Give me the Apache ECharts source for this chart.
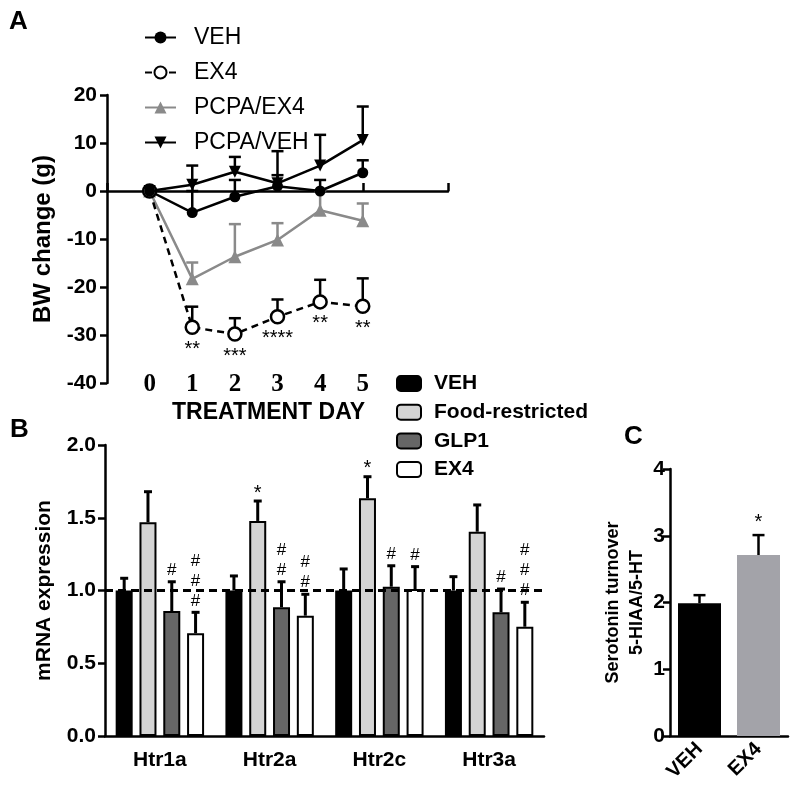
<!DOCTYPE html>
<html><head><meta charset="utf-8">
<script src="https://cdn.jsdelivr.net/npm/echarts@6/dist/echarts.min.js"></script>
<style>html,body{margin:0;padding:0;background:#fff}#c{width:800px;height:793px}</style>
</head><body><div id="c"></div>
<script>
// ---------- Panel A data ----------
const days = [0, 1, 2, 3, 4, 5];
const vehMean = [0, -4.5, -1.2, 1.0, 0.0, 3.8];
const vehUpper = [0, 0.0, 2.3, 3.3, 2.3, 6.4];
const ex4Mean = [0, -28.4, -29.8, -26.2, -23.1, -24.0];
const ex4Upper = [0, -24.1, -26.5, -22.6, -18.5, -18.2];
const pcpaEx4Mean = [0, -18.3, -13.7, -10.2, -4.0, -6.2];
const pcpaEx4Upper = [0, -14.9, -6.9, -6.7, 0.0, -2.6];
const pcpaVehMean = [0, 1.3, 4.0, 1.6, 5.3, 10.6];
const pcpaVehUpper = [0, 5.3, 7.1, 8.3, 11.7, 17.6];
const ex4Stars = ['', '**', '***', '****', '**', '**'];

// ---------- Panel B data ----------
const genes = ['Htr1a', 'Htr2a', 'Htr2c', 'Htr3a'];
const bVehMean = [1.0, 1.0, 1.0, 1.0];
const bVehUpper = [1.084, 1.10, 1.148, 1.095];
const bFrMean = [1.469, 1.478, 1.634, 1.404];
const bFrUpper = [1.679, 1.615, 1.782, 1.588];
const bGlpMean = [0.859, 0.885, 1.026, 0.85];
const bGlpUpper = [1.06, 1.06, 1.17, 1.01];
const bEx4Mean = [0.706, 0.827, 1.01, 0.751];
const bEx4Upper = [0.85, 0.974, 1.164, 0.919];
const bVehAnn = ['', '', '', ''];
const bFrAnn = ['', '*', '*', ''];
const bGlpAnn = ['#', '#\n#', '#', '#'];
const bEx4Ann = ['#\n#\n#', '#\n#', '#', '#\n#\n#'];
const bRefLine = 1.0;

// ---------- Panel C data ----------
const cCats = ['VEH', 'EX4'];
const cMean = [1.99, 2.71];
const cUpper = [2.11, 3.01];
const cAnn = ['', '*'];

// ---------- styles ----------
const FONT = "'Liberation Sans', Arial, sans-serif";
const BLACK = '#000';
const GRAY_A = '#8a8a8a';
const cColors = ['#000000', '#a3a3a9'];
const axisLineStyle = { color: BLACK, width: 2.5 };
const BAR_W = 17, BAR_GAP = 0.4;
const tickFont = { fontSize: 21, fontWeight: 'bold', color: BLACK, fontFamily: FONT };

function errA(upper, ann, color) {
  return function (params, api) {
    const i = params.dataIndex;
    const x = api.value(0), m = api.value(1), u = upper[i];
    const pm = api.coord([x, m]), pu = api.coord([x, u]);
    const ch = [];
    if (u !== m) {
      ch.push({ type: 'line', shape: { x1: pm[0], y1: pm[1], x2: pu[0], y2: pu[1] }, style: { stroke: color, lineWidth: 2.5 } });
      ch.push({ type: 'line', shape: { x1: pu[0] - 6, y1: pu[1], x2: pu[0] + 6, y2: pu[1] }, style: { stroke: color, lineWidth: 2.5 } });
    }
    const t = ann ? ann[i] : '';
    if (t) ch.push({ type: 'text', x: pm[0], y: pm[1] + 12, style: { text: t, fill: BLACK, fontSize: 20, lineHeight: 20, fontFamily: FONT, align: 'center', verticalAlign: 'top' } });
    return { type: 'group', children: ch };
  };
}

function errBar(upper, ann, group, count, bw, gapFrac, capW, lw) {
  return function (params, api) {
    const i = params.dataIndex;
    const m = api.value(1), u = upper[i];
    const gapPx = gapFrac * bw;
    const total = count * bw + (count - 1) * gapPx;
    const off = -total / 2 + bw / 2 + group * (bw + gapPx);
    const pm = api.coord([i, m]), pu = api.coord([i, u]);
    const x = pm[0] + off;
    const ch = [
      { type: 'line', shape: { x1: x, y1: pm[1], x2: x, y2: pu[1] }, style: { stroke: BLACK, lineWidth: lw } },
      { type: 'line', shape: { x1: x - capW / 2, y1: pu[1], x2: x + capW / 2, y2: pu[1] }, style: { stroke: BLACK, lineWidth: lw } }
    ];
    const t = ann[i];
    if (t) {
      const isStar = t.indexOf('*') >= 0;
      ch.push({ type: 'text', x: x, y: isStar ? pu[1] + (count === 1 ? -3 : 2) : pu[1] - 1.5,
        style: { text: t, fill: BLACK, fontSize: isStar ? 20 : 17, lineHeight: 20, fontFamily: FONT, align: 'center', verticalAlign: 'bottom' } });
    }
    return { type: 'group', children: ch };
  };
}

function tri(x, a, b) { return x.map((d, i) => [d, a[i], b[i]]); }
function pairs(x, a) { return x.map((d, i) => [d, a[i]]); }

const chart = echarts.init(document.getElementById('c'), null, { renderer: 'canvas' });

const option = {
  animation: false,
  backgroundColor: '#fff',
  textStyle: { fontFamily: FONT, color: BLACK },
  title: [
    { text: 'A', left: 9, top: 9, padding: 0, textStyle: { fontSize: 26, fontWeight: 'bold', color: BLACK, fontFamily: FONT } },
    { text: 'B', left: 10, top: 417, padding: 0, textStyle: { fontSize: 26, fontWeight: 'bold', color: BLACK, fontFamily: FONT } },
    { text: 'C', left: 624, top: 424, padding: 0, textStyle: { fontSize: 26, fontWeight: 'bold', color: BLACK, fontFamily: FONT } }
  ],
  legend: [
    { data: ['VEH', 'EX4', 'PCPA/EX4', 'PCPA/VEH'], orient: 'vertical', left: 144, top: 26, padding: 0,
      itemWidth: 31, itemHeight: 15, itemGap: 12, selectedMode: false,
      textStyle: { fontSize: 23, fontFamily: FONT, color: BLACK, padding: [0, 0, 0, 13] } },
    { data: ['VEH ', 'Food-restricted', 'GLP1', 'EX4 '], orient: 'vertical', left: 396, top: 373, padding: 0,
      formatter: function (n) { return n.trim(); }, icon: 'roundRect',
      itemWidth: 24, itemHeight: 15, itemGap: 7.7, selectedMode: false,
      textStyle: { fontSize: 21, fontWeight: 'bold', fontFamily: FONT, color: BLACK, padding: [0, 0, 0, 8] } }
  ],
  grid: [
    { left: 107, top: 95, width: 341, height: 288 },
    { left: 105, top: 445, width: 439, height: 291 },
    { left: 670, top: 469, width: 118, height: 267 }
  ],
  xAxis: [
    { gridIndex: 0, type: 'value', min: -1, max: 7, interval: 2, position: 'bottom',
      axisLine: { show: true, onZero: true, lineStyle: axisLineStyle },
      axisTick: { show: true, inside: true, length: 8, lineStyle: axisLineStyle },
      axisLabel: { show: false }, splitLine: { show: false } },
    { gridIndex: 0, type: 'value', min: -1, max: 7, interval: 1, position: 'bottom',
      axisLine: { show: false, onZero: false }, axisTick: { show: false }, splitLine: { show: false },
      axisLabel: { formatter: function (v) { return (v >= days[0] && v <= days[days.length - 1]) ? String(v) : ''; },
        fontFamily: "'Liberation Serif', 'Times New Roman', serif", fontSize: 25, fontWeight: 'bold', color: BLACK,
        verticalAlign: 'middle', margin: 2 },
      name: 'TREATMENT DAY', nameLocation: 'middle', nameGap: 30,
      nameTextStyle: { fontSize: 23, fontWeight: 'bold', color: BLACK, fontFamily: FONT, verticalAlign: 'middle', padding: [0, 18, 0, 0] } },
    { gridIndex: 1, type: 'category', data: genes,
      axisLine: { onZero: false, lineStyle: axisLineStyle },
      axisTick: { alignWithLabel: true, length: 7, lineStyle: axisLineStyle },
      axisLabel: { fontSize: 21, fontWeight: 'bold', color: BLACK, fontFamily: FONT, margin: 14 } },
    { gridIndex: 2, type: 'category', data: cCats,
      axisLine: { onZero: false, lineStyle: axisLineStyle },
      axisTick: { alignWithLabel: true, length: 7, lineStyle: axisLineStyle },
      axisLabel: { rotate: 45, fontSize: 20, fontWeight: 'bold', color: BLACK, fontFamily: FONT, margin: 10 } }
  ],
  yAxis: [
    { gridIndex: 0, type: 'value', min: -40, max: 20, interval: 10,
      axisLine: { show: true, onZero: false, lineStyle: axisLineStyle },
      axisTick: { show: true, length: 7, lineStyle: axisLineStyle }, splitLine: { show: false },
      axisLabel: Object.assign({ margin: 10 }, tickFont),
      name: 'BW change (g)', nameLocation: 'middle', nameGap: 52,
      nameTextStyle: { fontSize: 24, fontWeight: 'bold', color: BLACK, fontFamily: FONT } },
    { gridIndex: 1, type: 'value', min: 0, max: 2, interval: 0.5,
      axisLine: { show: true, onZero: false, lineStyle: axisLineStyle },
      axisTick: { show: true, length: 7, lineStyle: axisLineStyle }, splitLine: { show: false },
      axisLabel: Object.assign({ formatter: function (v) { return v.toFixed(1); }, margin: 9 }, tickFont),
      name: 'mRNA expression', nameLocation: 'middle', nameGap: 50,
      nameTextStyle: { fontSize: 21, fontWeight: 'bold', color: BLACK, fontFamily: FONT } },
    { gridIndex: 2, type: 'value', min: 0, max: 4, interval: 1,
      axisLine: { show: true, onZero: false, lineStyle: axisLineStyle },
      axisTick: { show: true, length: 7, lineStyle: axisLineStyle }, splitLine: { show: false },
      axisLabel: Object.assign({ margin: 5 }, tickFont),
      name: 'Serotonin turnover\n5-HIAA/5-HT', nameLocation: 'middle', nameGap: 9,
      nameTextStyle: { fontSize: 18, fontWeight: 'bold', color: BLACK, fontFamily: FONT, lineHeight: 24 } }
  ],
  series: [
    { type: 'custom', name: 'errVEH', xAxisIndex: 0, yAxisIndex: 0, z: 1, silent: true,
      data: tri(days, vehMean, vehUpper), renderItem: errA(vehUpper, null, BLACK) },
    { type: 'custom', name: 'errEX4', xAxisIndex: 0, yAxisIndex: 0, z: 1, silent: true,
      data: tri(days, ex4Mean, ex4Upper), renderItem: errA(ex4Upper, ex4Stars, BLACK) },
    { type: 'custom', name: 'errPE', xAxisIndex: 0, yAxisIndex: 0, z: 1, silent: true,
      data: tri(days, pcpaEx4Mean, pcpaEx4Upper), renderItem: errA(pcpaEx4Upper, null, GRAY_A) },
    { type: 'custom', name: 'errPV', xAxisIndex: 0, yAxisIndex: 0, z: 1, silent: true,
      data: tri(days, pcpaVehMean, pcpaVehUpper), renderItem: errA(pcpaVehUpper, null, BLACK) },
    { type: 'line', name: 'PCPA/EX4', xAxisIndex: 0, yAxisIndex: 0, z: 3, data: pairs(days, pcpaEx4Mean),
      symbol: 'triangle', symbolSize: 13, itemStyle: { color: GRAY_A }, lineStyle: { color: GRAY_A, width: 2.5 } },
    { type: 'line', name: 'EX4', xAxisIndex: 0, yAxisIndex: 0, z: 3, data: pairs(days, ex4Mean),
      symbol: 'circle', symbolSize: 13, itemStyle: { color: '#fff', borderColor: BLACK, borderWidth: 2.5 },
      lineStyle: { color: BLACK, width: 2.5, type: [7, 5] } },
    { type: 'line', name: 'PCPA/VEH', xAxisIndex: 0, yAxisIndex: 0, z: 3, data: pairs(days, pcpaVehMean),
      symbol: 'triangle', symbolRotate: 180, symbolSize: 12, itemStyle: { color: BLACK }, lineStyle: { color: BLACK, width: 2.5 } },
    { type: 'line', name: 'VEH', xAxisIndex: 0, yAxisIndex: 0, z: 3, data: pairs(days, vehMean),
      symbol: 'circle', symbolSize: 11, itemStyle: { color: BLACK }, lineStyle: { color: BLACK, width: 2.5 } },
    { type: 'bar', name: 'VEH ', xAxisIndex: 2, yAxisIndex: 1, data: bVehMean, barWidth: BAR_W, barGap: '40%',
      itemStyle: { color: '#000', borderColor: BLACK, borderWidth: 2 } },
    { type: 'bar', name: 'Food-restricted', xAxisIndex: 2, yAxisIndex: 1, data: bFrMean, barWidth: BAR_W, barGap: '40%',
      itemStyle: { color: '#d4d4d4', borderColor: BLACK, borderWidth: 2 } },
    { type: 'bar', name: 'GLP1', xAxisIndex: 2, yAxisIndex: 1, data: bGlpMean, barWidth: BAR_W, barGap: '40%',
      itemStyle: { color: '#666666', borderColor: BLACK, borderWidth: 2 } },
    { type: 'bar', name: 'EX4 ', xAxisIndex: 2, yAxisIndex: 1, data: bEx4Mean, barWidth: BAR_W, barGap: '40%',
      itemStyle: { color: '#ffffff', borderColor: BLACK, borderWidth: 2 },
      markLine: { silent: true, symbol: 'none', label: { show: false },
        lineStyle: { color: BLACK, width: 3, type: [8, 5] }, data: [{ yAxis: bRefLine }] } },
    { type: 'custom', name: 'eB0', xAxisIndex: 2, yAxisIndex: 1, z: 4, silent: true,
      data: tri([0, 1, 2, 3], bVehMean, bVehUpper), renderItem: errBar(bVehUpper, bVehAnn, 0, 4, BAR_W, BAR_GAP, 8, 3) },
    { type: 'custom', name: 'eB1', xAxisIndex: 2, yAxisIndex: 1, z: 4, silent: true,
      data: tri([0, 1, 2, 3], bFrMean, bFrUpper), renderItem: errBar(bFrUpper, bFrAnn, 1, 4, BAR_W, BAR_GAP, 8, 3) },
    { type: 'custom', name: 'eB2', xAxisIndex: 2, yAxisIndex: 1, z: 4, silent: true,
      data: tri([0, 1, 2, 3], bGlpMean, bGlpUpper), renderItem: errBar(bGlpUpper, bGlpAnn, 2, 4, BAR_W, BAR_GAP, 8, 3) },
    { type: 'custom', name: 'eB3', xAxisIndex: 2, yAxisIndex: 1, z: 4, silent: true,
      data: tri([0, 1, 2, 3], bEx4Mean, bEx4Upper), renderItem: errBar(bEx4Upper, bEx4Ann, 3, 4, BAR_W, BAR_GAP, 8, 3) },
    { type: 'bar', name: 'turnover', xAxisIndex: 3, yAxisIndex: 2, data: cMean, barWidth: 43,
      itemStyle: { color: function (p) { return cColors[p.dataIndex]; } } },
    { type: 'custom', name: 'eC', xAxisIndex: 3, yAxisIndex: 2, z: 1, silent: true,
      data: tri([0, 1], cMean, cUpper), renderItem: errBar(cUpper, cAnn, 0, 1, 43, 0, 12, 2.5) }
  ]
};
try {
  chart.setOption(option);
} catch (e) {
  document.body.insertAdjacentHTML('beforeend', '<pre style="position:absolute;top:0;left:0">' + e.stack + '</pre>');
}
</script>
</body></html>
